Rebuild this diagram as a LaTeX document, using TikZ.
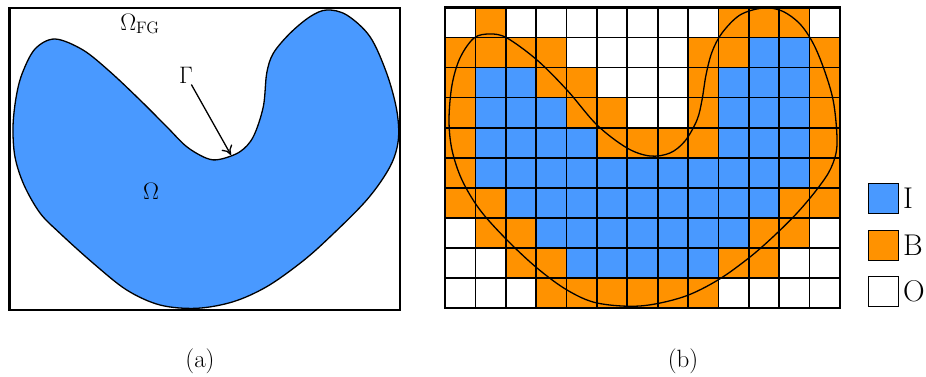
\documentclass[tikz,border=0pt]{standalone}
\usetikzlibrary{arrows.meta}
\definecolor{cI}{RGB}{73,153,255}
\definecolor{cB}{RGB}{255,146,0}
\definecolor{cW}{RGB}{255,255,255}
\begin{document}
\begin{tikzpicture}[x=1pt,y=-1pt,
  lbltxt/.style={inner sep=0.8pt,scale=1.38,font=\fontsize{17.28}{20}\selectfont},
  captxt/.style={inner sep=0pt,font=\fontsize{25}{29}\selectfont},
  legtxt/.style={inner sep=0pt,anchor=west,font=\fontsize{30}{34}\selectfont},
  legbox/.style={draw=black,line width=0.8pt,minimum width=30pt,minimum height=30pt,inner sep=0pt},
  shapeline/.style={line width=1.3pt,line join=round},
  boxframe/.style={line width=2.8pt}]
\useasboundingbox (0,0) rectangle (926,377);

% ---------- (a) ----------
\filldraw[fill=cI,shapeline] plot[smooth cycle,tension=0.55] coordinates {
 (55,39) (83,50) (110,71.7) (140,100) (166.7,126.7) (186.7,146.7)
 (206.7,158.3) (220,159.3) (240,151.7) (253.3,136.7) (263.3,106.7)
 (266.7,73.3) (273.3,53.3) (290,33.3) (310,16.7) (326.7,10) (346.7,15)
 (370,36.7) (386.7,73.3) (396.7,110) (398.3,140) (390,166.7) (366.7,200)
 (326.7,240) (300,263.3) (266.7,286.7) (233.3,301.7) (196.7,308.3)
 (160,305) (126.7,290) (93.3,263.3) (60,233.3) (40,213) (24,185) (15,157)
 (13,127) (16,98) (22,74) (35,49)};
\draw[boxframe] (9.5,8) rectangle (400,310);
\node[lbltxt] (omfg) at (140,24) {$\Omega_{\mathrm{FG}}$};
\node[lbltxt] (om) at (151,191) {$\Omega$};
\node[lbltxt] (gam) at (186,75) {$\Gamma$};
\coordinate (gtip) at (231,155);
\draw[line width=1.3pt,-{To[length=9pt,width=12pt]}] (gam) -- (gtip);
\node[captxt] (capa) at (200,361) {(a)};

% ---------- (b) ----------
\def\gx{445}\def\gy{7.5}\def\cw{30.385}\def\ch{30.05}
\foreach \rowlist [count=\r from 0] in {
 {W,B,W,W,W,W,W,W,W,B,B,B,W},
 {B,B,B,B,W,W,W,W,B,B,I,I,B},
 {B,I,I,B,B,W,W,W,B,I,I,I,B},
 {B,I,I,I,B,B,W,W,B,I,I,I,B},
 {B,I,I,I,I,B,B,B,B,I,I,I,B},
 {B,I,I,I,I,I,I,I,I,I,I,I,B},
 {B,B,I,I,I,I,I,I,I,I,I,B,B},
 {W,B,B,I,I,I,I,I,I,I,B,B,W},
 {W,W,B,B,I,I,I,I,I,B,B,W,W},
 {W,W,W,B,B,B,B,B,B,W,W,W,W}} {
  \foreach \c [count=\k from 0] in \rowlist {
    \fill[c\c] ({\gx+\k*\cw},{\gy+\r*\ch}) rectangle ({\gx+(\k+1)*\cw},{\gy+(\r+1)*\ch});
  }
}
\foreach \k in {1,...,12} \draw[line width=1.7pt] ({\gx+\k*\cw},\gy) -- ({\gx+\k*\cw},{\gy+10*\ch});
\foreach \r in {1,...,9} \draw[line width=1.7pt] (\gx,{\gy+\r*\ch}) -- ({\gx+13*\cw},{\gy+\r*\ch});
\draw[shapeline] plot[smooth cycle,tension=0.55] coordinates {
 (490,34) (507,38) (537,60) (567,90) (597,125) (627,148) (650,156) (670,153)
 (685,141) (697,120) (702,100) (706,75) (712,52) (722,33) (740,15) (763,8)
 (782,11) (800,24) (814,45) (826,75) (834,105) (837,145) (831,168) (818,188)
 (798,212) (775,235) (750,257) (718,280) (683,297) (640,306) (597,303)
 (567,290) (537,268) (507,240) (480,210) (462,180) (452,150) (449,120)
 (452,85) (460,58) (474,38)};
\draw[boxframe] (\gx,\gy) rectangle ({\gx+13*\cw},{\gy+10*\ch});
\node[captxt] (capb) at (683,361) {(b)};

% ---------- legend ----------
\node[legbox,fill=cI] (lI) at (883,198) {};
\node[legbox,fill=cB] (lB) at (883,245) {};
\node[legbox,fill=cW] (lO) at (883,291) {};
\node[legtxt] (tI) at (903,198) {I};
\node[legtxt] (tB) at (903,245) {B};
\node[legtxt] (tO) at (903,291) {O};
\end{tikzpicture}
\end{document}
